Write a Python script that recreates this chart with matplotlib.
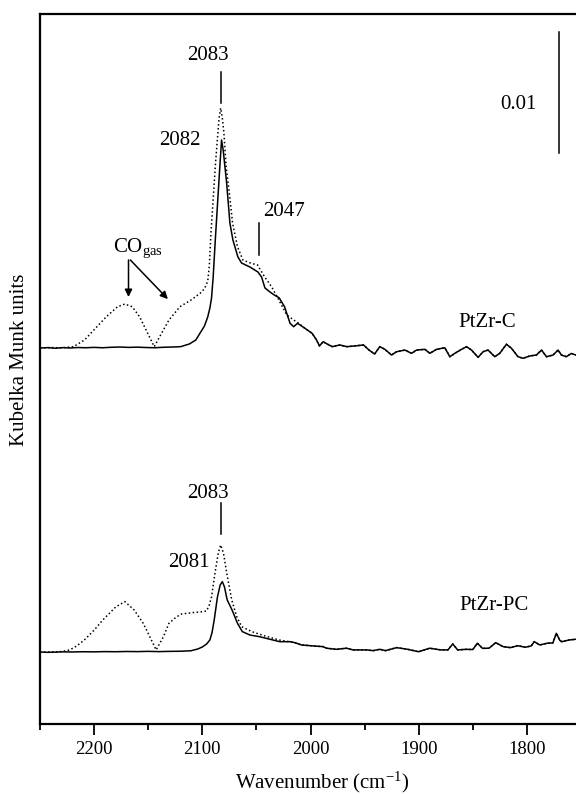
import numpy as np
import matplotlib.pyplot as plt
from matplotlib.ticker import MultipleLocator, NullLocator

plt.rcParams['font.family'] = ['Liberation Serif', 'DejaVu Serif']
plt.rcParams['mathtext.fontset'] = 'custom'
plt.rcParams['mathtext.rm'] = 'Liberation Serif'
plt.rcParams['mathtext.it'] = 'Liberation Serif:italic'

# Kubelka-Munk values below are in units of 1e-3

# PtZr-C, adsorbed CO (solid)
c_wn = [2250, 2243, 2236, 2229, 2222, 2215, 2208, 2200, 2192, 2184, 2176, 2168,
        2160, 2152, 2144, 2136, 2128, 2120, 2112, 2106, 2102, 2098, 2095, 2093,
        2091.5, 2090, 2088, 2086, 2084, 2082.2, 2080.7, 2077.5, 2074.5, 2071.7,
        2067.1, 2063.7, 2056, 2048.6, 2045.2, 2042.1, 2037.5, 2033, 2029, 2024,
        2018.9, 2015.5, 2012, 2005.2, 1998.5, 1994.4, 1991.7, 1988.3, 1984,
        1979.8, 1973.0, 1966.4, 1959.0, 1951.0, 1945.9, 1940.8, 1935.9, 1931.3,
        1925.1, 1920.5, 1912.8, 1906.6, 1902.0, 1894.3, 1889.7, 1883.5, 1875.9,
        1871.2, 1866.6, 1860.4, 1855.8, 1851.2, 1845.1, 1840.5, 1835.9, 1829.7,
        1825.1, 1818.9, 1814.3, 1808.2, 1803.5, 1797.4, 1791.2, 1786.5, 1781.9,
        1775.8, 1771.2, 1768.1, 1763.5, 1759, 1754.9, 1750]
c_km = [0.00, 0.03, -0.02, 0.03, 0.00, 0.04, 0.02, 0.05, 0.02, 0.06, 0.08, 0.05,
        0.07, 0.04, 0.02, 0.06, 0.08, 0.11, 0.33, 0.66, 1.24, 1.82, 2.56, 3.30,
        4.10, 5.80, 8.90, 11.8, 14.7, 17.18, 16.35, 13.63, 10.33, 8.92,
        7.52, 7.02, 6.69, 6.28, 5.86, 4.96, 4.63, 4.35, 4.15, 3.41,
        2.04, 1.76, 2.04, 1.63, 1.21, 0.66, 0.17, 0.52, 0.30,
        0.11, 0.25, 0.11, 0.17, 0.25, -0.17, -0.50, 0.11, -0.11,
        -0.58, -0.31, -0.17, -0.44, -0.17, -0.11, -0.44, -0.11, 0.02,
        -0.72, -0.44, -0.11, 0.11, -0.17, -0.77, -0.31, -0.17, -0.72,
        -0.44, 0.31, -0.02, -0.72, -0.85, -0.66, -0.58, -0.17, -0.72,
        -0.58, -0.17, -0.58, -0.72, -0.45, -0.58, -0.50]

# PtZr-C with gas-phase CO (dotted), high-wavenumber part
cg_wn = [2250, 2240, 2230, 2219, 2208.9, 2198.7, 2188.6, 2178.3, 2171.6, 2164.8,
         2158, 2151.2, 2144.4, 2137.7, 2130.8, 2120.7, 2110.5, 2102, 2098, 2095,
         2093.5, 2092, 2090, 2088, 2086, 2084.5, 2083, 2081.5, 2080, 2078, 2075,
         2072, 2067.5, 2062.5, 2055, 2049, 2042.5, 2036, 2030, 2022, 2015.4, 2010]
cg_km = [0.00, 0.04, 0.01, 0.11, 0.66, 1.63, 2.59, 3.41, 3.63, 3.41,
         2.59, 1.35, 0.11, 1.21, 2.31, 3.41, 3.96, 4.52, 4.90, 5.50,
         6.80, 9.5, 12.2, 15.0, 17.3, 19.0, 19.82, 19.0, 17.76, 14.98, 12.8,
         10.3, 8.37, 7.27, 7.0, 6.86, 5.89, 5.06, 4.10, 2.73, 2.31, 1.98]

# PtZr-PC, adsorbed CO (solid)
pc_wn = [2250, 2244, 2238, 2230, 2220, 2210, 2200, 2190, 2180, 2170, 2160, 2150,
         2140, 2130, 2120, 2110.5, 2104, 2100, 2096, 2093, 2091, 2089, 2086,
         2083.5, 2081.5, 2079.5, 2077, 2072.5, 2067.5, 2063, 2056, 2047, 2037.5,
         2028.5, 2019, 2014.5, 2008.4, 1997.6, 1988.3, 1985.3, 1976, 1966.8,
         1960.6, 1948.3, 1942, 1936, 1930.6, 1920.4, 1910.2, 1900.1, 1889.9,
         1879.7, 1873, 1868.5, 1864, 1855.9, 1850, 1845.8, 1841, 1835, 1828.8,
         1822.0, 1815.2, 1808.4, 1801.6, 1796, 1793.2, 1788.1, 1781.3, 1776,
         1772.8, 1769.5, 1767.8, 1761.0, 1754.9, 1750]
pc_km = [0.00, -0.03, -0.02, 0.01, 0.00, 0.02, 0.01, 0.03, 0.02, 0.04, 0.03, 0.05,
         0.03, 0.05, 0.06, 0.10, 0.25, 0.41, 0.66, 0.99, 1.60, 2.64, 4.54,
         5.53, 5.81, 5.37, 4.30, 3.47, 2.37, 1.68, 1.40, 1.26, 1.05,
         0.85, 0.85, 0.77, 0.58, 0.50, 0.44, 0.31, 0.22, 0.31,
         0.17, 0.17, 0.11, 0.22, 0.11, 0.36, 0.22, 0.02, 0.31,
         0.17, 0.17, 0.66, 0.17, 0.22, 0.20, 0.72, 0.30, 0.31, 0.77,
         0.44, 0.36, 0.52, 0.39, 0.50, 0.85, 0.58, 0.72, 0.75,
         1.54, 0.95, 0.85, 0.99, 1.05, 1.00]

# PtZr-PC with gas-phase CO (dotted), high-wavenumber part
pcg_wn = [2250, 2240, 2230, 2222.5, 2216, 2209, 2200, 2192, 2180, 2171.6, 2163,
          2154.6, 2148, 2142.7, 2136, 2130.8, 2124, 2119, 2108, 2099, 2096,
          2093.5, 2091.4, 2088.3, 2085.3, 2083, 2080.4, 2077.4, 2072.8, 2068.2,
          2063.6, 2054.3, 2042, 2029, 2019.9]
pcg_km = [0.00, 0.00, 0.03, 0.17, 0.50, 0.99, 1.80, 2.64, 3.72, 4.16, 3.47,
          2.37, 1.16, 0.17, 1.24, 2.37, 2.89, 3.14, 3.26, 3.33, 3.39,
          3.90, 4.57, 6.50, 8.15, 8.84, 8.15, 6.50, 4.30, 2.92,
          2.09, 1.68, 1.32, 0.99, 0.85]

# vertical stacking of the two samples
offset_c = 31.06e-3
offset_pc = 5.95e-3


def spectrum(wn, km):
    return np.asarray(wn, float), np.asarray(km, float) * 1e-3


def with_tail(wn, km, tail_wn, tail_km, cut):
    # low-wavenumber part of the dotted trace follows the solid one
    w, k = spectrum(wn, km)
    tw, tk = spectrum(tail_wn, tail_km)
    m = tw < cut
    return np.concatenate([w, tw[m]]), np.concatenate([k, tk[m]])


fig = plt.figure(figsize=(5.76, 7.94), dpi=100)
ax = fig.add_axes([40 / 576, 70 / 794, 541 / 576, 710 / 794])

dot = (0, (1, 1.6))
x, y = spectrum(c_wn, c_km)
ax.plot(x, y + offset_c, color='black', lw=1.1)
x, y = with_tail(cg_wn, cg_km, c_wn, c_km, 2006)
ax.plot(x, y + offset_c, color='black', lw=1.1, ls=dot)
x, y = spectrum(pc_wn, pc_km)
ax.plot(x, y + offset_pc, color='black', lw=1.1)
x, y = with_tail(pcg_wn, pcg_km, pc_wn, pc_km, 2016)
ax.plot(x, y + offset_pc, color='black', lw=1.1, ls=dot)

# band markers
ax.text(2094.8, 55.26e-3, '2083', fontsize=15, ha='center', va='center')
ax.plot([2083, 2083], [51.29e-3, 53.86e-3], color='black', lw=1.1)
ax.text(2120.7, 48.24e-3, '2082', fontsize=15, ha='center', va='center')
ax.text(2024.6, 42.37e-3, '2047', fontsize=15, ha='center', va='center')
ax.plot([2047.5, 2047.5], [38.74e-3, 41.38e-3], color='black', lw=1.1)

ax.text(2094.8, 19.08e-3, '2083', fontsize=15, ha='center', va='center')
ax.plot([2083, 2083], [15.69e-3, 18.25e-3], color='black', lw=1.1)
ax.text(2112.4, 13.38e-3, '2081', fontsize=15, ha='center', va='center')

# gas-phase CO arrows
ax.text(2159, 39.3e-3, r'CO$_{\mathrm{gas}}$', fontsize=15, ha='center', va='center')
arrow = dict(arrowstyle='-|>', lw=1.1, color='black', mutation_scale=11,
             shrinkA=0, shrinkB=0)
ax.annotate('', xy=(2168.2, 35.27e-3), xytext=(2168.2, 38.33e-3), arrowprops=arrow)
ax.annotate('', xy=(2131.8, 35.1e-3), xytext=(2166.5, 38.33e-3), arrowprops=arrow)

ax.text(1837, 33.2e-3, 'PtZr-C', fontsize=15, ha='center', va='center')
ax.text(1830.6, 9.83e-3, 'PtZr-PC', fontsize=15, ha='center', va='center')

# 0.01 scale bar
ax.plot([1770.5, 1770.5], [47.17e-3, 57.17e-3], color='black', lw=1.1)
ax.text(1807.5, 51.2e-3, '0.01', fontsize=15, ha='center', va='center')

ax.set_xlim(2250, 1750)
ax.set_ylim(0, 58.65e-3)
ax.xaxis.set_major_locator(MultipleLocator(100))
ax.xaxis.set_minor_locator(MultipleLocator(50))
ax.yaxis.set_major_locator(NullLocator())
ax.tick_params(axis='x', which='major', direction='out', length=8, width=1.3,
               labelsize=13.5, pad=4, top=False)
ax.tick_params(axis='x', which='minor', direction='out', length=4.5, width=1.3,
               top=False)
for s in ax.spines.values():
    s.set_linewidth(1.6)

ax.set_xlabel(r'Wavenumber (cm$^{\mathrm{-1}}$)', fontsize=15)
ax.xaxis.set_label_coords(0.521, -0.064)
ax.set_ylabel('Kubelka Munk units', fontsize=15)
ax.yaxis.set_label_coords(-0.02, 0.513)

fig.savefig('out.png', dpi=100)
